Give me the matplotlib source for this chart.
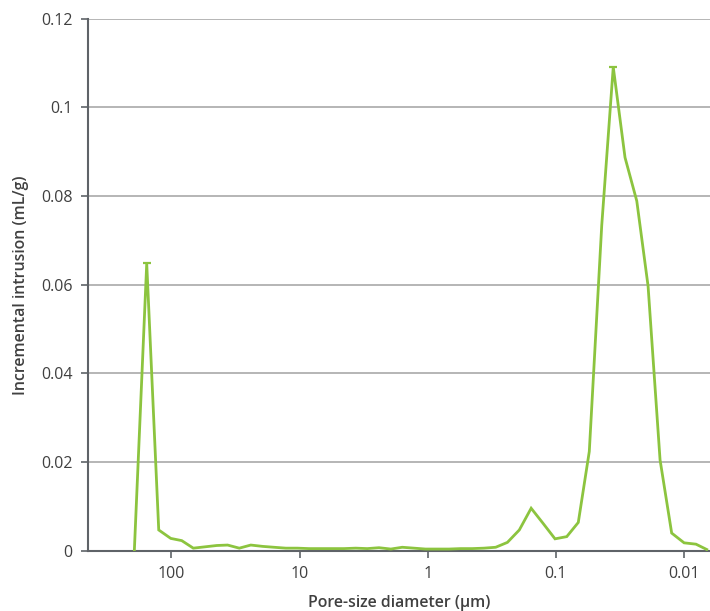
import matplotlib
matplotlib.use("Agg")
import matplotlib.pyplot as plt
from matplotlib.ticker import FixedLocator, FixedFormatter, FuncFormatter

# pore-size diameter (um)
diameter = [194.4, 155.6, 125.4, 101.1, 82.96, 67.4, 54.6, 44.2, 36.4, 29.5,
            24.0, 19.4, 15.8, 12.8, 10.4, 8.43, 6.83, 5.55, 4.50, 3.64,
            2.96, 2.40, 1.94, 1.58, 1.28, 1.04, 0.842, 0.682, 0.553, 0.449,
            0.364, 0.295, 0.239, 0.193, 0.156, 0.126, 0.1016, 0.0823, 0.0669, 0.0549,
            0.0439, 0.0357, 0.0289, 0.0234, 0.0191, 0.0154, 0.0125, 0.0100, 0.00808, 0.00666]

# incremental intrusion (mL/g)
intrusion = [0.0, 0.0648, 0.0047, 0.0028, 0.0023, 0.0006, 0.0009, 0.0012, 0.0013, 0.0006,
             0.0013, 0.0010, 0.0008, 0.0006, 0.0006, 0.0005, 0.0005, 0.0005, 0.0005, 0.0006,
             0.0005, 0.0007, 0.0004, 0.0008, 0.0006, 0.0004, 0.0004, 0.0004, 0.0005, 0.0005,
             0.0006, 0.0008, 0.0019, 0.0047, 0.0096, 0.0062, 0.0027, 0.0032, 0.0064, 0.0224,
             0.0734, 0.1091, 0.0887, 0.0789, 0.0597, 0.0205, 0.0040, 0.0018, 0.0015, 0.0003]

peak_idx = [1, 41]

xticks = [100, 10, 1, 0.1, 0.01]
xtick_labels = ["100", "10", "1", "0.1", "0.01"]
yticks = [0, 0.02, 0.04, 0.06, 0.08, 0.1, 0.12]

green = "#8cc43f"
axis_grey = "#5f6368"
text_grey = "#404040"

plt.rcParams["font.family"] = ["Open Sans", "DejaVu Sans"]

fig = plt.figure(figsize=(7.1, 6.11), dpi=100)
ax = fig.add_axes([0.124, 0.0985, 0.876, 0.8709])

ax.plot(diameter, intrusion, color=green, lw=2.0, solid_joinstyle="miter", zorder=3)
ax.plot([diameter[i] for i in peak_idx], [intrusion[i] for i in peak_idx],
        ls="none", marker="_", ms=6, mew=1.6, color=green, zorder=3)

ax.set_xscale("log")
ax.set_xlim(446.5, 0.00628)
ax.set_ylim(0, 0.12)

ax.xaxis.set_major_locator(FixedLocator(xticks))
ax.xaxis.set_major_formatter(FixedFormatter(xtick_labels))
ax.xaxis.set_minor_locator(FixedLocator([]))
ax.yaxis.set_major_locator(FixedLocator(yticks))
ax.yaxis.set_major_formatter(FuncFormatter(lambda v, p: "0" if v == 0 else f"{v:g}"))

ax.grid(axis="y", color="#b0b0b0", lw=1.3)
ax.set_axisbelow(True)

for s in ["top", "right"]:
    ax.spines[s].set_visible(False)
for s in ["left", "bottom"]:
    ax.spines[s].set_color(axis_grey)
    ax.spines[s].set_linewidth(1.5)

ax.tick_params(axis="both", colors=axis_grey, length=5, width=1.2, direction="out",
               labelsize=11.5, labelcolor=text_grey, pad=6)

ax.set_xlabel("Pore-size diameter (µm)", fontsize=11.4, fontweight="semibold",
              color=text_grey, labelpad=9)
ax.set_ylabel("Incremental intrusion (mL/g)", fontsize=11.4, fontweight="semibold",
              color=text_grey, labelpad=9)

fig.savefig("out.png", dpi=100)
